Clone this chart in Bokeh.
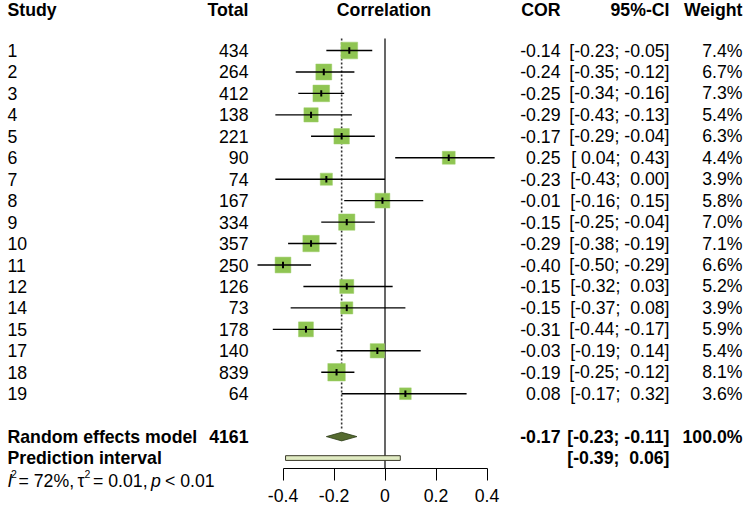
from bokeh.plotting import figure
from bokeh.models import Range1d, LinearAxis, FixedTicker, ColumnDataSource
from bokeh.core.properties import value
from bokeh.embed import file_html
from bokeh.resources import INLINE
import numpy as np

# ---- data ----
studies = ["1", "2", "3", "4", "5", "6", "7", "8", "9", "10", "11", "12", "14", "15", "17", "18", "19"]
totals = [434, 264, 412, 138, 221, 90, 74, 167, 334, 357, 250, 126, 73, 178, 140, 839, 64]
cor = [-0.14, -0.24, -0.25, -0.29, -0.17, 0.25, -0.23, -0.01, -0.15, -0.29, -0.40, -0.15, -0.15, -0.31, -0.03, -0.19, 0.08]
lower = [-0.23, -0.35, -0.34, -0.43, -0.29, 0.04, -0.43, -0.16, -0.25, -0.38, -0.50, -0.32, -0.37, -0.44, -0.19, -0.25, -0.17]
upper = [-0.05, -0.12, -0.16, -0.13, -0.04, 0.43, 0.00, 0.15, -0.04, -0.19, -0.29, 0.03, 0.08, -0.17, 0.14, -0.12, 0.32]
weights = [7.4, 6.7, 7.3, 5.4, 6.3, 4.4, 3.9, 5.8, 7.0, 7.1, 6.6, 5.2, 3.9, 5.9, 5.4, 8.1, 3.6]

re_total = 4161
re_cor = -0.17
re_lower = -0.23
re_upper = -0.11
re_weight = 100.0
pi_lower = -0.39
pi_upper = 0.06
het_i2 = "72%"
het_tau2 = "0.01"
het_p = "< 0.01"

tick_vals = [-0.4, -0.2, 0.0, 0.2, 0.4]
tick_labels = ["-0.4", "-0.2", "0", "0.2", "0.4"]

headers = ["Study", "Total", "Correlation", "COR", "95%-CI", "Weight"]

# ---- helpers ----
NB = "\u00a0"
def fmt_ci(lo, hi):
    return ("[%5.2f; %5.2f]" % (lo, hi)).replace(" ", NB)

FONT = value("Liberation Sans")
FS = "17.7px"

W, H = 749, 518
X0_PX = 384.5
PX_PER_UNIT = 255.0
ROW0 = 50.0
ROW_H = 21.45
AXIS_PX = 468.0

def row_of(px):
    return (px - ROW0) / ROW_H

p = figure(width=W, height=H, output_backend="svg", toolbar_location=None,
           x_axis_type=None, y_axis_type=None,
           x_range=Range1d(0, W),
           y_range=Range1d(row_of(H), row_of(0)),
           min_border_left=0, min_border_right=0, min_border_top=0, min_border_bottom=0)
p.extra_x_ranges = {"cor": Range1d((0 - X0_PX) / PX_PER_UNIT, (W - X0_PX) / PX_PER_UNIT)}
p.outline_line_color = None
p.xgrid.visible = False
p.ygrid.visible = False
p.background_fill_color = "white"
p.border_fill_color = "white"

n = len(studies)
rows = list(range(n))
axis_row = row_of(AXIS_PX)

# reference lines
p.segment(x0=[0], y0=[-0.56], x1=[0], y1=[axis_row], x_range_name="cor",
          line_color="black", line_width=1.2)
p.segment(x0=[re_cor], y0=[-0.56], x1=[re_cor], y1=[17.7], x_range_name="cor",
          line_color="#333333", line_width=1.6, line_dash="2 2")

# squares
sizes = [6.15 * np.sqrt(w) for w in weights]
src = ColumnDataSource(dict(y=rows, cor=cor, lo=lower, hi=upper, size=sizes,
                            ytop=[r - 0.15 for r in rows], ybot=[r + 0.15 for r in rows]))
p.scatter(x="cor", y="y", size="size", marker="square", source=src, x_range_name="cor",
          fill_color="#8fc552", line_color="#9fcf6a", line_width=0.5)
p.segment(x0="lo", y0="y", x1="hi", y1="y", source=src, x_range_name="cor",
          line_color="black", line_width=1.4)
p.segment(x0="cor", y0="ytop", x1="cor", y1="ybot", source=src, x_range_name="cor",
          line_color="black", line_width=2)

# diamond
re_row = 18
p.patch(x=[re_lower, re_cor, re_upper, re_cor], y=[re_row, re_row - 0.2, re_row, re_row + 0.2],
        x_range_name="cor", fill_color="#556b2f", line_color="#2f3d1a", line_width=0.8)
# prediction interval
pi_row = 19
p.quad(left=[pi_lower], right=[pi_upper], top=[pi_row - 0.11], bottom=[pi_row + 0.11],
       x_range_name="cor", fill_color="#e0ebc2", line_color="#3a3a2a", line_width=1)

# axis (fixed inside the frame so the text below it is not clipped)
ax = LinearAxis(x_range_name="cor", ticker=FixedTicker(ticks=tick_vals),
                major_label_overrides={v: l for v, l in zip(tick_vals, tick_labels)},
                fixed_location=axis_row)
ax.bounds = (tick_vals[0], tick_vals[-1])
ax.major_tick_out = 12
ax.major_tick_in = 0
ax.minor_tick_out = 0
ax.minor_tick_in = 0
ax.axis_line_color = "black"
ax.major_tick_line_color = "black"
ax.major_label_text_font = "Liberation Sans"
ax.major_label_text_font_size = FS
ax.major_label_text_color = "black"
ax.major_label_standoff = 8
p.add_layout(ax, "below")

# ---- texts ----
HDR_ROW = -1.87

def col(xs, ys, texts, align, bold=False, style=None, size=FS):
    st = style if style else ("bold" if bold else "normal")
    p.text(x=xs, y=ys, text=texts, text_align=align, text_baseline="middle",
           text_font=FONT, text_font_size=size, text_color="black",
           text_font_style=st)

hx = [7.0, 248, 383.5, 560, 669, 742]
ha = ["left", "right", "center", "right", "right", "right"]
for x, t, a in zip(hx, headers, ha):
    col([x], [HDR_ROW], [t], a, bold=True)

col([7.0] * n, rows, studies, "left")
col([248] * n, rows, [str(t) for t in totals], "right")
col([560] * n, rows, ["%.2f" % c for c in cor], "right")
col([669] * n, rows, [fmt_ci(a, b) for a, b in zip(lower, upper)], "right")
col([742] * n, rows, ["%.1f%%" % w for w in weights], "right")

col([7.0], [re_row], ["Random effects model"], "left", bold=True)
col([248, 560, 669, 742], [re_row] * 4,
    [str(re_total), "%.2f" % re_cor, fmt_ci(re_lower, re_upper), "%.1f%%" % re_weight],
    "right", bold=True)
col([7.0], [pi_row], ["Prediction interval"], "left", bold=True)
col([669], [pi_row], [fmt_ci(pi_lower, pi_upper)], "right", bold=True)

# heterogeneity line
het_row = 20.05
sup_row = het_row - 0.3
col([7.0], [het_row], ["I"], "left", style="italic")
col([10.5], [sup_row], ["2"], "left", size="10.5px")
col([18.0], [het_row], ["= " + het_i2 + ","], "left")
col([77.0], [het_row], ["\u03c4"], "left")
col([84.0], [sup_row], ["2"], "left", size="10.5px")
col([92.5], [het_row], ["= " + het_tau2 + ","], "left")
col([150.5], [het_row], ["p"], "left", style="italic")
col([164.5], [het_row], [het_p], "left")

open("out.html", "w").write(file_html(p, INLINE))
